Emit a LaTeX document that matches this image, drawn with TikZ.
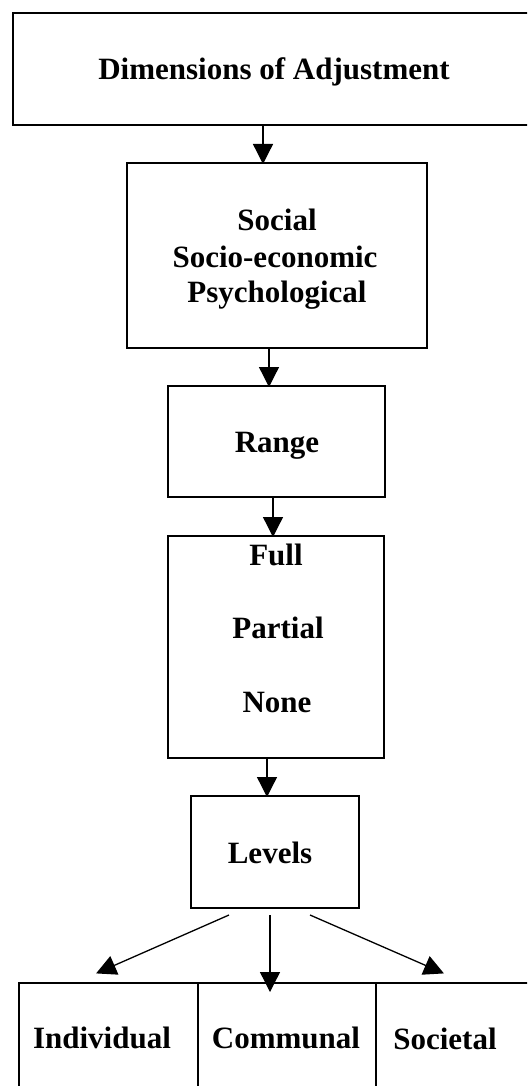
\documentclass[tikz,border=0pt]{standalone}
\usepackage{fontspec}
\setmainfont{Liberation Serif}
\usetikzlibrary{arrows.meta}
\tikzset{
  box/.style={draw=black, line width=1.6pt, inner sep=0pt, outer sep=0pt, fill=none},
  lbl/.style={inner sep=0pt, anchor=base, font=\fontsize{31}{36}\selectfont\bfseries},
  arr/.style={draw=black, line width=1.3pt, -{Triangle[length=20pt,width=20pt]}, shorten >=-1pt}
}
\begin{document}
\begin{tikzpicture}[x=1pt,y=-1pt]
\fill[white] (0,0) rectangle (527,1086);
\clip (0,0) rectangle (527,1086);
% boxes
\node[box, minimum width=522pt, minimum height=112pt] (b1) at (274,69) {};
\node[box, minimum width=300pt, minimum height=185pt] (b2) at (277,255.5) {};
\node[box, minimum width=217pt, minimum height=111pt] (b3) at (276.5,441.5) {};
\node[box, minimum width=216pt, minimum height=222pt] (b4) at (276,647) {};
\node[box, minimum width=168pt, minimum height=112pt] (b5) at (275,852) {};
\node[box, minimum width=179pt, minimum height=117pt] (c1) at (108.5,1041.5) {};
\node[box, minimum width=178pt, minimum height=117pt] (c2) at (287,1041.5) {};
\node[box, minimum width=164pt, minimum height=117pt] (c3) at (458,1041.5) {};
% texts
\node[lbl] (t1) at (274,80) {Dimensions of Adjustment};
\node[lbl] (t2a) at (277,230) {Social};
\node[lbl] (t2b) at (275,267) {Socio-economic};
\node[lbl] (t2c) at (277,302) {Psychological};
\node[lbl] (t3) at (277,452) {Range};
\node[lbl] (t4a) at (276,565) {Full};
\node[lbl] (t4b) at (278,638) {Partial};
\node[lbl] (t4c) at (277,712) {None};
\node[lbl] (t5) at (270,863) {Levels};
\node[lbl] (u1) at (102,1048) {Individual};
\node[lbl] (u2) at (286,1048) {Communal};
\node[lbl] (u3) at (445,1049) {Societal};
% connectors
\draw[arr] (263,0 |- b1.south) -- (263,0 |- b2.north);
\draw[arr] (269,0 |- b2.south) -- (269,0 |- b3.north);
\draw[arr] (273,0 |- b3.south) -- (273,0 |- b4.north);
\draw[arr] (267,0 |- b4.south) -- (267,0 |- b5.north);
\coordinate (s1) at (229,915);
\coordinate (s2) at (270,915);
\coordinate (s3) at (310,915);
\coordinate (e1) at (97,973);
\coordinate (e2) at (270,991);
\coordinate (e3) at (443,973);
\draw[arr] (s1) -- (e1);
\draw[arr] (s2) -- (e2);
\draw[arr] (s3) -- (e3);
\end{tikzpicture}
\end{document}
